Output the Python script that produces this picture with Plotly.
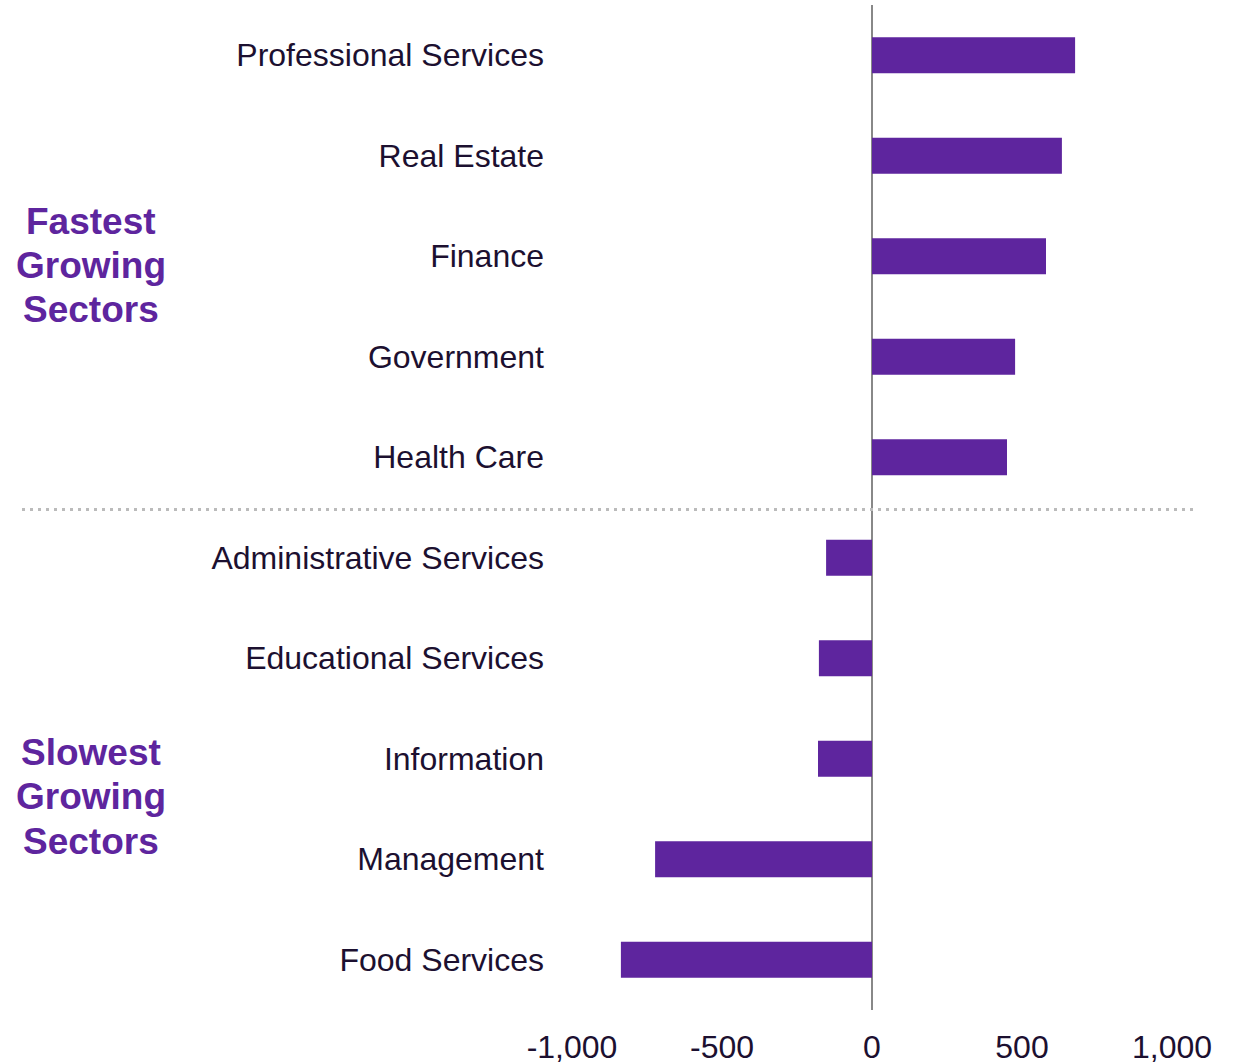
import plotly.graph_objects as go

categories = ["Professional Services", "Real Estate", "Finance", "Government", "Health Care",
              "Administrative Services", "Educational Services", "Information", "Management", "Food Services"]
values = [677, 633, 580, 477, 450, -153, -177, -180, -723, -837]
tick_vals = [-1000, -500, 0, 500, 1000]
tick_text = ["-1,000", "-500", "0", "500", "1,000"]
group_lines = [["Fastest", "Growing", "Sectors"], ["Slowest", "Growing", "Sectors"]]

W, H = 1238, 1064
L, R, T, B = 552, 36, 5, 54
PW = W - L - R
PH = H - T - B

def px_x(px):
    return (px - L) / PW

def px_y(py):
    return (H - B - py) / PH

PURPLE = "#5E259E"
TEXT = "#1c1030"

fig = go.Figure(go.Bar(
    y=categories, x=values, orientation="h",
    marker=dict(color=PURPLE, line=dict(width=0)),
    width=0.36,
))

fig.update_layout(
    width=W, height=H,
    margin=dict(l=L, r=R, t=T, b=B, autoexpand=False),
    plot_bgcolor="white", paper_bgcolor="white",
    font=dict(family="Liberation Sans, Arial", size=32, color=TEXT),
    showlegend=False,
    xaxis=dict(range=[-(872 - L) / 0.3, (W - R - 872) / 0.3],
               tickvals=tick_vals, ticktext=tick_text, automargin=False,
               showgrid=False, zeroline=True, zerolinecolor="#888888", zerolinewidth=2,
               showline=False, ticks="", ticklabelstandoff=15,
               tickfont=dict(size=32, color=TEXT)),
    yaxis=dict(categoryorder="array", categoryarray=categories, autorange=False,
               range=[9.5, -0.5], showgrid=False, showline=False, ticks="", automargin=False,
               ticklabelstandoff=7, tickfont=dict(size=32, color=TEXT)),
)

fig.add_shape(type="line", xref="paper", yref="y",
              x0=px_x(22), x1=px_x(1195), y0=4.52, y1=4.52,
              line=dict(color="#BBBBBB", width=3, dash="3px,5px"))

for lines, centers in zip(group_lines, [[221, 265, 310], [752, 796, 841]]):
    for txt, py in zip(lines, centers):
        fig.add_annotation(text="<b>" + txt + "</b>", xref="paper", yref="paper",
                           x=px_x(91), y=px_y(py), xanchor="center", yanchor="middle",
                           showarrow=False, align="center",
                           font=dict(size=37, color=PURPLE, family="Liberation Sans, Arial"))

fig.write_html("out.html", config={"displayModeBar": False},
               post_script="document.body.style.margin='0';")
